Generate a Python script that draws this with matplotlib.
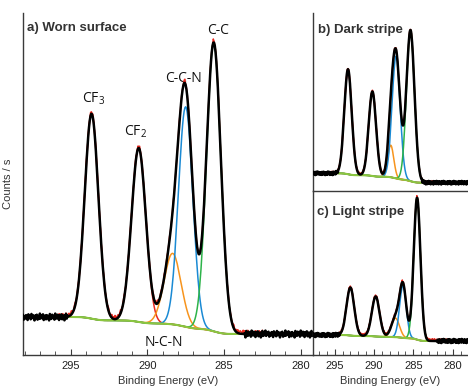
import numpy as np
import matplotlib.pyplot as plt
from matplotlib.ticker import MultipleLocator

plt.rcParams['font.family'] = ['Liberation Sans', 'DejaVu Sans']
plt.rcParams['mathtext.default'] = 'regular'

# C 1s components, in this order: CF3, CF2, N-C-N, C-C-N, C-C
comp_colors = ['#e8281e', '#e8281e', '#f7941d', '#1a8ad4', '#2db34a']
bg_color = '#8cc63f'

# a) worn surface
worn_centre = [293.63, 290.56, 288.35, 287.50, 285.67]
worn_height = [205, 174, 71, 220, 289]
worn_fwhm = [1.05, 1.10, 1.30, 1.10, 1.10]
worn_bg = [38, 21]            # background, high / low binding energy side
worn_fit = [283.7, 295.2]

# b) dark stripe
dark_centre = [293.30, 290.20, 287.87, 287.19, 285.36]
dark_height = [105, 84.5, 32, 122, 151]
dark_fwhm = [1.10, 1.10, 0.90, 1.20, 1.20]
dark_bg = [17.7, 8.3]
dark_fit = [283.96, 294.6]

# c) light stripe
light_centre = [293.00, 289.78, 287.27, 286.32, 284.52]
light_height = [48, 40, 19, 52, 142]
light_fwhm = [1.15, 1.15, 1.20, 1.00, 1.00]
light_bg = [20, 14]
light_fit = [282.05, 294.4]

# wiggle of the raw counts in the flat tails (read by eye, relative units)
wiggle = [0.3, -0.5, 0.8, -0.2, -0.9, 0.4, 0.1, -0.6, 0.7, -0.3, 0.5, -0.8,
          0.2, 0.6, -0.4, -0.1, 0.9, -0.7, 0.3, -0.2, 0.6, -0.5, 0.1, 0.8,
          -0.9, 0.2, -0.3, 0.5, -0.6, 0.4, 0.0, -0.8, 0.7, -0.1, 0.3, -0.4,
          0.9, -0.5, 0.2, -0.7, 0.6, -0.2, 0.4, -0.9, 0.1, 0.5, -0.3, 0.8,
          -0.6, 0.2, -0.1, 0.7, -0.8, 0.3, 0.5, -0.4, 0.1, -0.7, 0.6, -0.2,
          0.4, -0.5, 0.9, -0.3]


def draw(ax, centre, height, fwhm, bg_pts, fit, xlim, amp):
    E = np.arange(min(xlim), max(xlim) + 0.05, 0.05)
    comps = [h * np.exp(-4 * np.log(2) * ((E - c) / w) ** 2)
             for c, h, w in zip(centre, height, fwhm)]
    total = np.sum(comps, axis=0)
    frac = np.cumsum(total) / np.sum(total)
    bg = bg_pts[1] + (bg_pts[0] - bg_pts[1]) * frac
    model = total + bg
    wig = np.resize(wiggle, E.size) * amp

    inside = (E >= fit[0]) & (E <= fit[1])
    for comp, col in zip(comps, comp_colors):
        ax.plot(E[inside], comp[inside] + bg[inside], color=col, lw=1.1, zorder=2)
    ax.plot(E[inside], bg[inside], color=bg_color, lw=1.5, zorder=3)

    near = (E >= fit[0] - 1.4) & (E <= fit[1] + 0.9)
    ax.plot(E[near], model[near] + np.abs(np.roll(wig, 23)[near]) * 1.1,
            color='#e8281e', lw=1.0, zorder=4)
    black = np.where(inside, model, model + wig)
    ax.plot(E, black, color='black', lw=1.8, zorder=5)
    ax.set_xlim(xlim)


fig = plt.figure(figsize=(4.68, 3.92), dpi=100)
ax_a = fig.add_axes([23 / 468, 37 / 392, 290 / 468, 342 / 392])
ax_b = fig.add_axes([313 / 468, 201 / 392, 155 / 468, 178 / 392])
ax_c = fig.add_axes([313 / 468, 37 / 392, 155 / 468, 164 / 392])

draw(ax_a, worn_centre, worn_height, worn_fwhm, worn_bg, worn_fit, (298.1, 279.2), 3.8)
draw(ax_b, dark_centre, dark_height, dark_fwhm, dark_bg, dark_fit, (297.75, 278.05), 2.0)
draw(ax_c, light_centre, light_height, light_fwhm, light_bg, light_fit, (297.75, 278.05), 2.3)
ax_a.set_ylim(0, 342)
ax_b.set_ylim(0, 178)
ax_c.set_ylim(0, 164)

for ax in (ax_a, ax_b, ax_c):
    for s in ('top', 'right'):
        ax.spines[s].set_visible(False)
    for s in ('left', 'bottom'):
        ax.spines[s].set_color('#3a3a3a')
        ax.spines[s].set_linewidth(1.0)
    ax.set_yticks([])
    ax.patch.set_alpha(0)

for ax in (ax_a, ax_c):
    ax.xaxis.set_major_locator(MultipleLocator(5))
    ax.xaxis.set_minor_locator(MultipleLocator(1))
    ax.tick_params(axis='x', which='both', direction='in', colors='#3a3a3a',
                   labelcolor='#222222', labelsize=8, pad=4)
    ax.tick_params(axis='x', which='major', length=4)
    ax.tick_params(axis='x', which='minor', length=3)
    ax.set_xlabel('Binding Energy (eV)', fontsize=8, color='#333333', labelpad=4)
ax_b.set_xticks([])

ax_a.set_ylabel('Counts / s', fontsize=8, color='#333333')
ax_a.yaxis.set_label_coords(-0.035, 0.5)

title_kw = dict(fontsize=9.5, fontweight='bold', color='#333333', va='center')
ax_a.text(0.014, 0.956, 'a) Worn surface', transform=ax_a.transAxes, **title_kw)
ax_b.text(0.03, 0.904, 'b) Dark stripe', transform=ax_b.transAxes, **title_kw)
ax_c.text(0.026, 0.874, 'c) Light stripe', transform=ax_c.transAxes, **title_kw)

peak_kw = dict(fontsize=10, family=['Open Sans', 'DejaVu Sans'], color='#111111',
               ha='center', va='center')
ax_a.text(285.41, 325, 'C-C', **peak_kw)
ax_a.text(287.63, 277, 'C-C-N', **peak_kw)
ax_a.text(293.5, 256, 'CF$_\\mathregular{3}$', **peak_kw)
ax_a.text(290.76, 223, 'CF$_\\mathregular{2}$', **peak_kw)
ax_a.text(288.93, 13, 'N-C-N', **peak_kw)

fig.savefig('out.png', dpi=100)
